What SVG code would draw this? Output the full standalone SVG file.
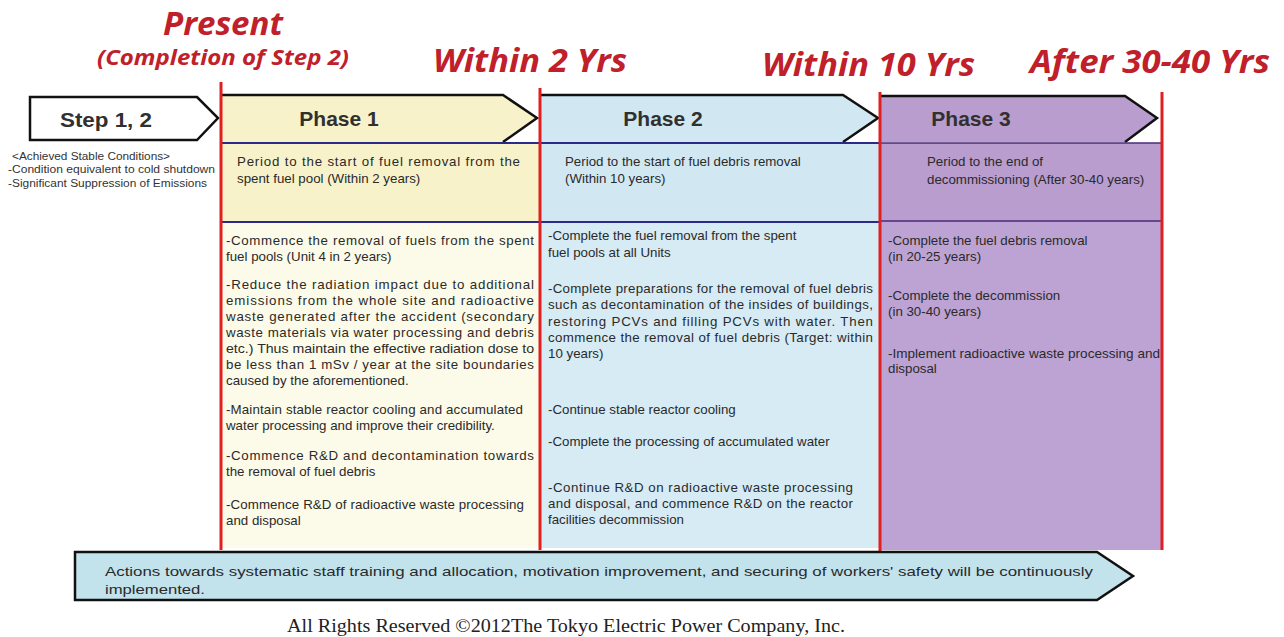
<svg xmlns="http://www.w3.org/2000/svg" width="1284" height="637" viewBox="0 0 1284 637">
<style>
.red{font-family:"Open Sans","Liberation Sans",sans-serif;font-weight:bold;font-style:italic;fill:#c0202a}
.ph{font-family:"Liberation Sans",Arial,sans-serif;font-weight:bold;font-size:21px;fill:#303030;text-anchor:middle}
.t{font-family:"Liberation Sans",Arial,sans-serif;font-size:13.3px;fill:#2a2a2a}
.s{font-family:"Liberation Sans",Arial,sans-serif;font-size:10px;fill:#333}
.chev{fill:none;stroke:#111;stroke-width:2.5}
.sep{stroke:#e02020;stroke-width:3}
.bl{stroke:#2a2a8a;stroke-width:2}
</style>
<rect width="1284" height="637" fill="#fff"/>

<g id="timeline-labels">
<text class="red" x="223" y="35" font-size="33" text-anchor="middle" textLength="120" lengthAdjust="spacingAndGlyphs">Present</text>
<text class="red" x="223" y="65" font-size="21" text-anchor="middle" textLength="252" lengthAdjust="spacingAndGlyphs">(Completion of Step 2)</text>
<text class="red" x="433" y="72" font-size="33" textLength="194" lengthAdjust="spacingAndGlyphs">Within 2 Yrs</text>
<text class="red" x="762" y="76" font-size="33" textLength="213" lengthAdjust="spacingAndGlyphs">Within 10 Yrs</text>
<text class="red" x="1030" y="73" font-size="33" textLength="240" lengthAdjust="spacingAndGlyphs">After 30-40 Yrs</text>
</g>

<g id="step12">
<path d="M30,97 H197 L218,118 L197,140 H30 Z" fill="#fff" stroke="#111" stroke-width="2.5"/>
<text class="ph" x="106" y="127" textLength="92" lengthAdjust="spacingAndGlyphs">Step 1, 2</text>
<text class="s" x="12" y="160" textLength="158" lengthAdjust="spacingAndGlyphs">&lt;Achieved Stable Conditions&gt;</text>
<text class="s" x="8" y="173" textLength="207" lengthAdjust="spacingAndGlyphs">-Condition equivalent to cold shutdown</text>
<text class="s" x="8" y="187" textLength="199" lengthAdjust="spacingAndGlyphs">-Significant Suppression of Emissions</text>
</g>

<g id="phase1">
<rect x="222" y="222" width="318" height="326" fill="#fcfae8"/>
<rect x="222" y="143" width="318" height="79" fill="#f7f2ca"/>
<path d="M222,95 H503 L537,118 L503,142 H222 Z" fill="#f7f2ca"/>
<path class="chev" d="M222,95 H503 L537,118 L503,142"/>
<line class="bl" x1="222" y1="143" x2="540" y2="143"/>
<line class="bl" x1="222" y1="222" x2="540" y2="222"/>
<text class="ph" x="339" y="126">Phase 1</text>
<text class="t" x="237" y="166" textLength="283" lengthAdjust="spacing">Period to the start of fuel removal from the</text>
<text class="t" x="237" y="183">spent fuel pool (Within 2 years)</text>
<text class="t" x="226" y="245" textLength="308" lengthAdjust="spacing">-Commence the removal of fuels from the spent</text>
<text class="t" x="226" y="261">fuel pools (Unit 4 in 2 years)</text>
<text class="t" x="226" y="289" textLength="308" lengthAdjust="spacing">-Reduce the radiation impact due to additional</text>
<text class="t" x="226" y="305" textLength="308" lengthAdjust="spacing">emissions from the whole site and radioactive</text>
<text class="t" x="226" y="321" textLength="308" lengthAdjust="spacing">waste generated after the accident (secondary</text>
<text class="t" x="226" y="337" textLength="308" lengthAdjust="spacing">waste materials via water processing and debris</text>
<text class="t" x="226" y="353" textLength="308" lengthAdjust="spacingAndGlyphs">etc.) Thus maintain the effective radiation dose to</text>
<text class="t" x="226" y="369" textLength="308" lengthAdjust="spacing">be less than 1 mSv / year at the site boundaries</text>
<text class="t" x="226" y="385">caused by the aforementioned.</text>
<text class="t" x="226" y="414" textLength="297" lengthAdjust="spacing">-Maintain stable reactor cooling and accumulated</text>
<text class="t" x="226" y="430">water processing and improve their credibility.</text>
<text class="t" x="226" y="460" textLength="308" lengthAdjust="spacing">-Commence R&amp;D and decontamination towards</text>
<text class="t" x="226" y="476">the removal of fuel debris</text>
<text class="t" x="226" y="509" textLength="298" lengthAdjust="spacing">-Commence R&amp;D of radioactive waste processing</text>
<text class="t" x="226" y="525">and disposal</text>
</g>

<g id="phase2">
<rect x="541" y="222" width="339" height="326" fill="#d6ebf4"/>
<rect x="541" y="143" width="339" height="79" fill="#d1e8f2"/>
<path d="M541,95 H843 L878,118 L843,142 H541 Z" fill="#d1e8f2"/>
<path class="chev" d="M541,95 H843 L878,118 L843,142"/>
<line class="bl" x1="541" y1="143" x2="880" y2="143"/>
<line class="bl" x1="541" y1="222" x2="880" y2="222"/>
<text class="ph" x="663" y="126">Phase 2</text>
<text class="t" x="565" y="166">Period to the start of fuel debris removal</text>
<text class="t" x="565" y="183">(Within 10 years)</text>
<text class="t" x="548" y="240">-Complete the fuel removal from the spent</text>
<text class="t" x="548" y="257">fuel pools at all Units</text>
<text class="t" x="548" y="293" textLength="325" lengthAdjust="spacing">-Complete preparations for the removal of fuel debris</text>
<text class="t" x="548" y="309" textLength="325" lengthAdjust="spacing">such as decontamination of the insides of buildings,</text>
<text class="t" x="548" y="326" textLength="325" lengthAdjust="spacing">restoring PCVs and filling PCVs with water. Then</text>
<text class="t" x="548" y="342" textLength="325" lengthAdjust="spacing">commence the removal of fuel debris (Target: within</text>
<text class="t" x="548" y="358">10 years)</text>
<text class="t" x="548" y="414">-Continue stable reactor cooling</text>
<text class="t" x="548" y="446">-Complete the processing of accumulated water</text>
<text class="t" x="548" y="492" textLength="305" lengthAdjust="spacing">-Continue R&amp;D on radioactive waste processing</text>
<text class="t" x="548" y="508" textLength="305" lengthAdjust="spacing">and disposal, and commence R&amp;D on the reactor</text>
<text class="t" x="548" y="524">facilities decommission</text>
</g>

<g id="phase3">
<rect x="881" y="222" width="281" height="328" fill="#bda3d3"/>
<rect x="881" y="143" width="281" height="79" fill="#b89dce"/>
<path d="M881,96 H1125 L1157,118 L1125,142 H881 Z" fill="#b89dce"/>
<path class="chev" d="M881,96 H1125 L1157,118 L1125,142"/>
<line x1="881" y1="143" x2="1162" y2="143" stroke="#4a2a7a" stroke-width="1.5"/>
<line x1="881" y1="221" x2="1162" y2="221" stroke="#4a2a7a" stroke-width="1.5"/>
<text class="ph" x="971" y="126">Phase 3</text>
<text class="t" x="927" y="166">Period to the end of</text>
<text class="t" x="927" y="184">decommissioning (After 30-40 years)</text>
<text class="t" x="888" y="245">-Complete the fuel debris removal</text>
<text class="t" x="888" y="261">(in 20-25 years)</text>
<text class="t" x="888" y="300">-Complete the decommission</text>
<text class="t" x="888" y="316">(in 30-40 years)</text>
<text class="t" x="888" y="358" textLength="272" lengthAdjust="spacingAndGlyphs">-Implement radioactive waste processing and</text>
<text class="t" x="888" y="373">disposal</text>
</g>

<g id="connectors">
<line class="sep" x1="221" y1="82" x2="221" y2="550"/>
<line class="sep" x1="540" y1="88" x2="540" y2="550"/>
<line class="sep" x1="880" y1="92" x2="880" y2="552"/>
<line class="sep" x1="1162" y1="92" x2="1162" y2="550"/>
</g>

<g id="workforce">
<path d="M75,552 H1097 L1133,576 L1097,600 H75 Z" fill="#c2e2ec" stroke="#111" stroke-width="2.5"/>
<text class="t" x="105" y="576" font-size="14.5" textLength="988" lengthAdjust="spacingAndGlyphs">Actions towards systematic staff training and allocation, motivation improvement, and securing of workers' safety will be continuously</text>
<text class="t" x="105" y="594" font-size="14.5" textLength="100" lengthAdjust="spacingAndGlyphs">implemented.</text>
</g>

<g id="footer">
<text x="287" y="632" font-family="Liberation Serif,Times New Roman,serif" font-size="18" fill="#222" textLength="558" lengthAdjust="spacingAndGlyphs">All Rights Reserved ©2012The Tokyo Electric Power Company, Inc.</text>
</g>
</svg>
